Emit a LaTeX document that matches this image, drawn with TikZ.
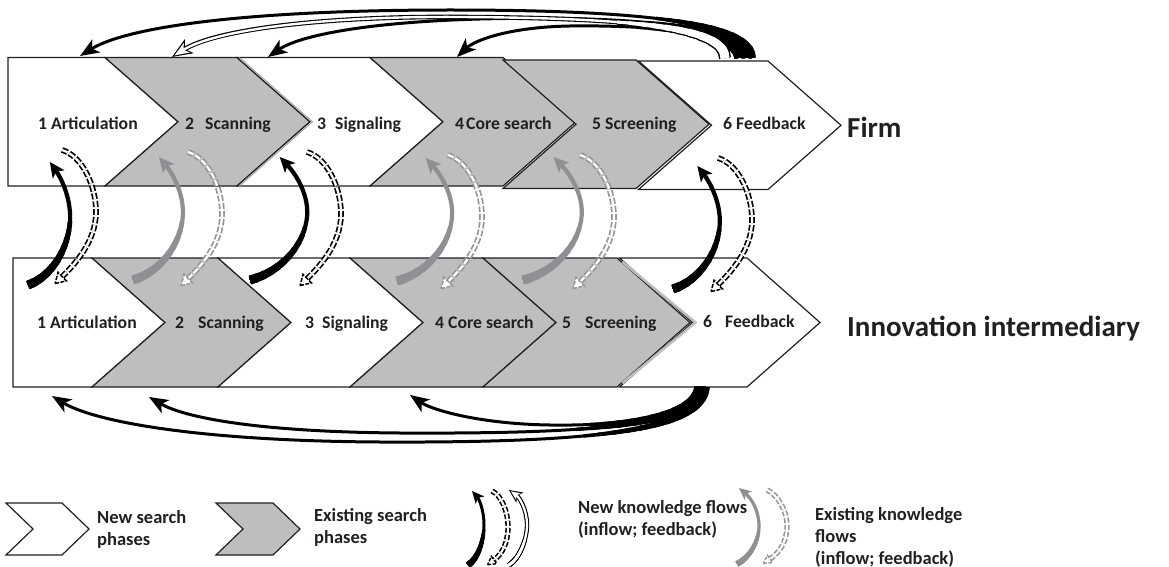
\documentclass[tikz,border=0pt]{standalone}
\usepackage{fontspec}
\setmainfont{Carlito}
\usetikzlibrary{arrows.meta}
\definecolor{ink}{HTML}{231F20}
\definecolor{phasegray}{HTML}{BCBEC0}
\definecolor{flowgray}{HTML}{8E9093}
\definecolor{fbgray}{HTML}{939598}
\definecolor{shadowgray}{HTML}{A0A0A0}

% tapered stroke: #1 colour, #2 start width, #3 end width, #4 taper length, #5 arrow options, #6 path
\newcommand\taper[6]{%
  \foreach \ti in {0,...,9}{%
    \pgfmathsetmacro\tw{#2-(#2-#3)*\ti/10}%
    \pgfmathsetmacro\tl{#4*(\ti+1)/10}%
    \draw[#1, line width=\tw pt, dash pattern=on \tl pt off 3000pt] #6;%
  }%
  \draw[#1, line width=#3pt, #5] #6;%
}
\newcommand\inflowarc[1]{%
  \taper{#1}{9}{4.2}{80}{-{Stealth[length=15pt,width=14pt,inset=3.5pt]}}%
  {(0,0) .. controls (28,-8) and (50,-35) .. (52,-65) .. controls (53,-88) and (40,-108) .. (27,-123)}}
\newcommand\feedbackarc[1]{%
  \draw[#1, line width=1.7pt, double=white, double distance=2.3pt, dash pattern=on 6pt off 2pt]
    (0,0) .. controls (20,6) and (34,35) .. (34,62) .. controls (34,92) and (12,115) .. (0.2,126.6);
  \draw[#1, line width=1.5pt, fill=white, dash pattern=on 4pt off 1.5pt, line join=miter]
    (-6.9,133.6) -- (4.4,130.9) -- (-4.0,122.3) -- cycle;}

\tikzset{
  phase/.style={draw=ink, line width=1.2pt, line join=miter},
  newph/.style={phase, fill=white},
  oldph/.style={phase, fill=phasegray},
  lab/.style={font=\fontsize{17.7}{20}\selectfont\bfseries, text=ink, inner sep=0pt, anchor=base west},
  biglab/.style={font=\fontsize{29}{32}\selectfont\bfseries, text=ink, inner sep=0pt, anchor=base west},
  legtext/.style={font=\fontsize{18.5}{22}\selectfont\bfseries, text=ink, inner sep=0pt, align=left, anchor=west},
  blackhead/.style={-{Stealth[length=19pt,width=15pt,inset=5pt]}},
}

\begin{document}
\begin{tikzpicture}[x=1pt,y=-1pt]
\useasboundingbox (0,0) rectangle (1169,567);

% ---------- Firm row ----------
\path[newph] (8,57.5) -- (105,57.5) -- (178,121.75) -- (105,186) -- (8,186) -- cycle;
\path[oldph] (105,57.5) -- (237,57.5) -- (310,121.75) -- (237,186) -- (105,186) -- (178,121.75) -- cycle;
\path[newph] (237,57.5) -- (370,57.5) -- (443,121.75) -- (370,186) -- (237,186) -- (310,121.75) -- cycle;
\draw[shadowgray, line width=1pt] (239.4,57.5) -- (312.4,121.75) -- (239.4,186);
\path[oldph] (370,57.5) -- (503,57.5) -- (576,121.75) -- (503,186) -- (370,186) -- (443,121.75) -- cycle;
\path[oldph] (503,60) -- (636,60) -- (709,124.25) -- (636,188.5) -- (503,188.5) -- (576,124.25) -- cycle;
\path[newph] (638.5,61) -- (768,61) -- (841,125.25) -- (768,189.5) -- (638.5,189.5) -- (711.5,125.25) -- cycle;

\node[lab] (f1) at (38,129) {1 Articulation};
\node[lab] (f2) at (185,129) {2\hspace{11pt}Scanning};
\node[lab] (f3) at (317,129) {3\hspace{9pt}Signaling};
\node[lab] (f4) at (455,129) {4\hspace{2pt}Core search};
\node[lab] (f5) at (592,129) {5 Screening};
\node[lab] (f6) at (723,130) {6 Feedback};
\node[biglab] (firm) at (847,137) {Firm};

% ---------- Intermediary row ----------
\path[newph] (13,258) -- (92,258) -- (165,322.5) -- (92,387) -- (13,387) -- cycle;
\path[oldph] (92,258) -- (218,258) -- (291,322.5) -- (218,387) -- (92,387) -- (165,322.5) -- cycle;
\path[newph] (218,258) -- (350,258) -- (423,322.5) -- (350,387) -- (218,387) -- (291,322.5) -- cycle;
\path[oldph] (350,258) -- (483,258) -- (556,322.5) -- (483,387) -- (350,387) -- (423,322.5) -- cycle;
\path[oldph] (483,258) -- (617,258) -- (690,322.5) -- (617,387) -- (483,387) -- (556,322.5) -- cycle;
\path[newph] (619.5,258) -- (747,258) -- (820,322.5) -- (747,387) -- (619.5,387) -- (692.5,322.5) -- cycle;
\draw[phasegray, line width=2.5pt] (622.5,262) -- (695.5,322.5) -- (622.5,383);

\node[lab] (i1) at (37,328) {1 Articulation};
\node[lab] (i2) at (175,328) {2\hspace{14pt}Scanning};
\node[lab] (i3) at (305,328) {3\hspace{8pt}Signaling};
\node[lab] (i4) at (435,328) {4 Core search};
\node[lab] (i5) at (562,328) {5\hspace{14pt}Screening};
\node[lab] (i6) at (703,327) {6\hspace{13pt}Feedback};
\node[biglab] (inter) at (847,336) {Innovation intermediary};

% ---------- knowledge flows between the rows ----------
\begin{scope}[shift={(28,285)}, xscale=0.81]\inflowarc{black}\end{scope}
\begin{scope}[shift={(133,280)}, xscale=0.96]\inflowarc{flowgray}\end{scope}
\begin{scope}[shift={(250,280)}, xscale=1.1]\inflowarc{black}\end{scope}
\begin{scope}[shift={(397,281)}, xscale=1.06]\inflowarc{flowgray}\end{scope}
\begin{scope}[shift={(523,280)}, xscale=1.13]\inflowarc{flowgray}\end{scope}
\begin{scope}[shift={(673,289)}, xscale=0.9]\inflowarc{black}\end{scope}

\begin{scope}[shift={(62,150)}]\feedbackarc{black}\end{scope}
\begin{scope}[shift={(188,152)}]\feedbackarc{fbgray}\end{scope}
\begin{scope}[shift={(307,152)}]\feedbackarc{black}\end{scope}
\begin{scope}[shift={(448,155)}]\feedbackarc{fbgray}\end{scope}
\begin{scope}[shift={(580,155)}]\feedbackarc{fbgray}\end{scope}
\begin{scope}[shift={(718,158)}]\feedbackarc{black}\end{scope}

% ---------- feedback loops above the firm row ----------
\taper{black}{7.5}{3}{110}{blackhead}{(738,58) .. controls (736,32) and (650,25) .. (570,26) .. controls (510,27) and (475,40) .. (457,57)}
\taper{black}{7.5}{3}{110}{blackhead}{(745,58) .. controls (745,27) and (640,15) .. (480,19) .. controls (370,22) and (300,35) .. (268,57)}
\taper{black}{7.5}{3}{110}{blackhead}{(752,58) .. controls (752,22) and (640,10) .. (450,10) .. controls (260,10) and (130,25) .. (80,56)}
\taper{black}{12}{4.6}{120}{-{Stealth[length=20pt,width=16pt,inset=5pt]}}{(725,58) .. controls (725,28) and (640,18) .. (460,17) .. controls (320,16) and (215,30) .. (172,57)}
\taper{white}{9}{2.4}{120}{shorten >=2.8pt,-{Stealth[length=14.5pt,width=11pt,inset=3.8pt]}}{(725,58) .. controls (725,28) and (640,18) .. (460,17) .. controls (320,16) and (215,30) .. (172,57)}

% ---------- feedback loops below the intermediary row ----------
\taper{black}{7.5}{3}{140}{blackhead}{(706,387) .. controls (703,430) and (600,443) .. (380,442) .. controls (200,441) and (95,422) .. (52,396)}
\taper{black}{7.5}{3}{140}{blackhead}{(702,387) .. controls (698,425) and (600,434) .. (400,433) .. controls (260,432) and (185,418) .. (149,397)}
\taper{black}{7.5}{3}{120}{blackhead}{(698,387) .. controls (694,418) and (620,426) .. (550,425) .. controls (480,424) and (432,410) .. (410,395)}

% ---------- legend ----------
\path[newph] (6,503) -- (62,503) -- (89,529) -- (62,555) -- (6,555) -- (33,529) -- cycle;
\node[legtext] (l1) at (97,529) {New search\\phases};
\path[oldph] (216,503) -- (273,503) -- (300,529) -- (273,555) -- (216,555) -- (243,529) -- cycle;
\node[legtext] (l2) at (314,527) {Existing search\\phases};

\begin{scope}[shift={(468,565)}]
\taper{black}{6.5}{3}{40}{-{Stealth[length=12pt,width=11pt,inset=3pt]}}{(0,0) .. controls (10,-6) and (16,-25) .. (16,-40) .. controls (16,-55) and (11,-66) .. (4,-74)}
\end{scope}
\begin{scope}[shift={(492,491)}]
\draw[black, line width=1.6pt, double=white, double distance=2.1pt, dash pattern=on 5pt off 2pt]
  (0,0) .. controls (9,4) and (16,20) .. (16,36) .. controls (16,52) and (10,63) .. (2,69);
\draw[black, line width=1.4pt, fill=white, dash pattern=on 3.5pt off 1.5pt] (-4.4,73.8) -- (4.7,72.6) -- (-0.7,65.4) -- cycle;
\end{scope}
\begin{scope}[shift={(509,565)}]
\taper{black}{4.8}{4.4}{30}{-{Stealth[length=13pt,width=12pt,inset=3pt]}}{(0,0) .. controls (10,-6) and (18,-25) .. (18,-40) .. controls (18,-56) and (10,-68) .. (0,-75)}
\taper{white}{2.6}{2.2}{30}{shorten >=2.2pt,-{Stealth[length=9pt,width=7.5pt,inset=2pt]}}{(0,0) .. controls (10,-6) and (18,-25) .. (18,-40) .. controls (18,-56) and (10,-68) .. (0,-75)}
\end{scope}
\node[legtext] (l3) at (578,519) {New knowledge flows\\(inflow; feedback)};

\begin{scope}[shift={(737,564)}]
\taper{flowgray}{6}{3.2}{40}{-{Stealth[length=12pt,width=11pt,inset=3pt]}}{(0,0) .. controls (12,-6) and (22,-22) .. (22,-38) .. controls (22,-54) and (14,-66) .. (2,-76)}
\end{scope}
\begin{scope}[shift={(767,490)}]
\draw[fbgray, line width=1.6pt, double=white, double distance=2.1pt, dash pattern=on 5pt off 2pt]
  (0,0) .. controls (10,4) and (20,20) .. (20,36) .. controls (20,52) and (12,63) .. (3,69);
\draw[fbgray, line width=1.4pt, fill=white, dash pattern=on 3.5pt off 1.5pt] (-3.6,73.4) -- (5.5,72.7) -- (0.5,65.3) -- cycle;
\end{scope}
\node[legtext] (l4) at (815,537) {Existing knowledge\\flows\\(inflow; feedback)};
\end{tikzpicture}
\end{document}
